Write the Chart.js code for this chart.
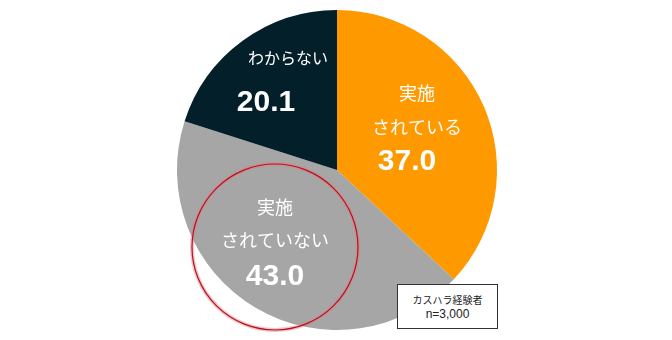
<!DOCTYPE html>
<html>
<head>
<meta charset="utf-8">
<script src="https://cdn.jsdelivr.net/npm/chart.js@4"></script>
<style>
  html, body { margin: 0; padding: 0; background: #fff; }
  #wrap { position: relative; width: 672px; height: 340px; }
  #note {
    position: absolute; left: 397px; top: 284px; width: 101px; height: 45px;
    border: 1px solid #333; background: #fff; box-sizing: border-box;
    font-family: "Noto Sans CJK JP", sans-serif; font-size: 10px; color: #222;
    text-align: center; line-height: 14px; padding-top: 8px;
  }
  #note span { font-family: "Liberation Sans", Arial, sans-serif; font-size: 12px; }
</style>
</head>
<body>
<div id="wrap">
  <canvas id="chart-pie" width="672" height="340"></canvas>
  <div id="note">カスハラ経験者<br><span>n=3,000</span></div>
</div>
<script>
const categories = ['実施されている', '実施されていない', 'わからない'];
const values = [37.0, 43.0, 20.1];
const colors = ['#FF9900', '#A6A6A6', '#03202A'];
// label lines inside each slice
const sliceLines = [['実施', 'されている'], ['実施', 'されていない'], ['わからない']];

const font = '"Noto Sans CJK JP", "Noto Sans", sans-serif';
const numFont = '"Liberation Sans", Arial, sans-serif';

// text placement per slice (offsets relative to pie center)
const labelPos = [
  { tx: 80, nx: 70, dy: -77, lineGap: 34, numGap: 34, size: 18 },
  { tx: -62, nx: -62, dy: 37, lineGap: 33, numGap: 36, size: 18 },
  { tx: -49, nx: -71, dy: -112, lineGap: 0, numGap: 44, size: 16 }
];

const sliceLabels = {
  id: 'sliceLabels',
  afterDatasetsDraw(chart) {
    const ctx = chart.ctx;
    const arc = chart.getDatasetMeta(0).data[0];
    const cx = arc.x, cy = arc.y;
    ctx.save();
    ctx.fillStyle = '#fff';
    ctx.textAlign = 'center';
    ctx.textBaseline = 'middle';
    values.forEach((v, i) => {
      const p = labelPos[i];
      let y = cy + p.dy;
      ctx.font = p.size + 'px ' + font;
      sliceLines[i].forEach((t, k) => {
        ctx.fillText(t, cx + p.tx, y);
        if (k < sliceLines[i].length - 1) y += p.lineGap;
      });
      y += p.numGap;
      ctx.font = 'bold 30px ' + numFont;
      ctx.fillText(v.toFixed(1), cx + p.nx, y + 1);
    });
    // red highlight ring around "実施されていない"
    ctx.beginPath();
    ctx.arc(cx - 62, cy + 77, 83, 0, Math.PI * 2);
    ctx.strokeStyle = 'rgba(230,120,130,0.45)';
    ctx.lineWidth = 4;
    ctx.stroke();
    ctx.strokeStyle = '#B0141E';
    ctx.lineWidth = 1.2;
    ctx.stroke();
    ctx.restore();
  }
};

new Chart(document.getElementById('chart-pie'), {
  type: 'pie',
  data: {
    labels: categories,
    datasets: [{ data: values, backgroundColor: colors, borderWidth: 0 }]
  },
  options: {
    responsive: false,
    animation: false,
    layout: { padding: { top: 10, bottom: 10, left: 2, right: 0 } },
    plugins: { legend: { display: false }, tooltip: { enabled: false } }
  },
  plugins: [sliceLabels]
});
</script>
</body>
</html>
